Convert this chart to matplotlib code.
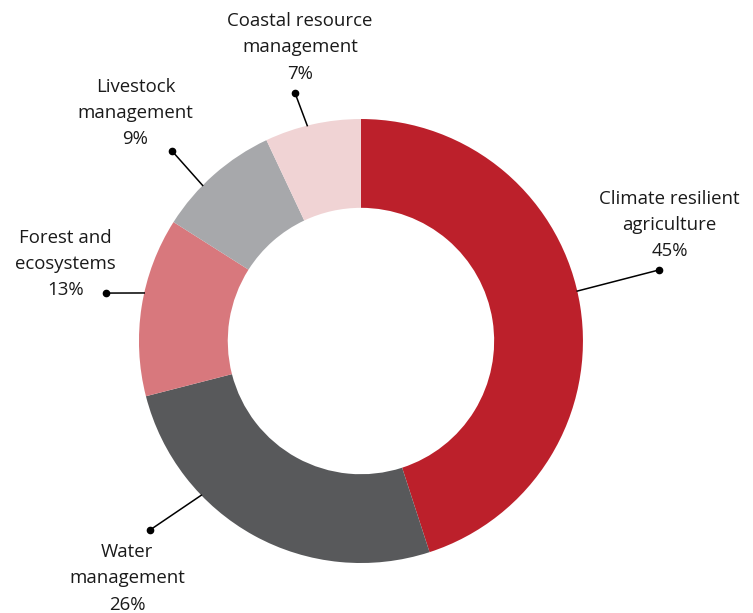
import numpy as np
import matplotlib.pyplot as plt

# data
labels = ['Climate resilient\nagriculture', 'Water\nmanagement', 'Forest and\necosystems',
          'Livestock\nmanagement', 'Coastal resource\nmanagement']
shares = [45, 26, 13, 9, 7]
colors = ['#BC202B', '#58595B', '#D8787D', '#A7A8AB', '#F0D3D4']

# layout of the callouts (angle on ring in degrees, dot position, text position) in radius units
ring_angle = [13, 224, 167.5, 135.5, 104]
dot_xy = [(1.342, 0.320), (-0.950, -0.851), (-1.149, 0.216), (-0.851, 0.856), (-0.297, 1.117)]
text_xy = [(1.390, 0.523), (-1.054, -1.068), (-1.331, 0.347), (-1.016, 1.027), (-0.275, 1.324)]

plt.rcParams['font.family'] = ['Open Sans', 'DejaVu Sans']

fig = plt.figure(figsize=(7.53, 6.13), dpi=100)
ax = fig.add_axes([0, 0, 1, 1])
ax.pie(shares, colors=colors, radius=1, startangle=90, counterclock=False,
       wedgeprops=dict(width=0.4, linewidth=0))

for i in range(len(shares)):
    a = np.deg2rad(ring_angle[i])
    ex, ey = np.cos(a), np.sin(a)
    dx, dy = dot_xy[i]
    ax.plot([ex, dx], [ey, dy], color='black', lw=1.1, zorder=3)
    ax.plot(dx, dy, 'o', color='black', ms=4.5, zorder=4)
    tx, ty = text_xy[i]
    ax.text(tx, ty, labels[i] + '\n' + str(shares[i]) + '%', ha='center', va='center',
            fontsize=13.4, linespacing=1.6, color='#1a1a1a')

ax.set_xlim(-1.626, 1.766)
ax.set_ylim(-1.225, 1.536)
ax.set_aspect('equal')
ax.axis('off')
plt.savefig('out.png', dpi=100)
